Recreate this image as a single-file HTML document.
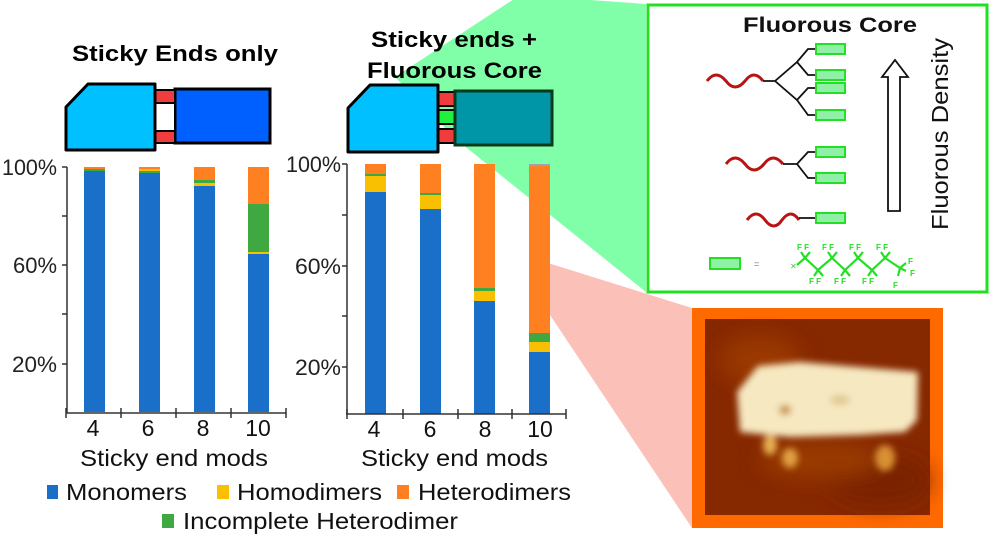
<!DOCTYPE html>
<html><head><meta charset="utf-8"><style>html,body{margin:0;padding:0;background:#fff}svg{display:block}</style></head>
<body>
<svg width="993" height="537" viewBox="0 0 993 537" xmlns="http://www.w3.org/2000/svg" font-family="Liberation Sans, Arial, sans-serif">
<defs>
<filter id="bl" x="-20%" y="-20%" width="140%" height="140%"><feGaussianBlur stdDeviation="3.5"/></filter>
<filter id="bl2" x="-20%" y="-20%" width="140%" height="140%"><feGaussianBlur stdDeviation="10"/></filter>
</defs>
<!-- pink wedge -->
<polygon points="548,263 692,308 692,528 548,312" fill="#fbc0b8"/>
<!-- green wedge -->
<polygon points="395,77 520,-5 646,4 646,292 457,140" fill="#80ffa8"/>

<!-- titles -->
<text x="72" y="61" font-size="22" font-weight="bold" textLength="206" lengthAdjust="spacingAndGlyphs">Sticky Ends only</text>
<text x="371" y="47" font-size="22" font-weight="bold" textLength="166" lengthAdjust="spacingAndGlyphs">Sticky ends +</text>
<text x="367" y="78" font-size="22" font-weight="bold" textLength="175" lengthAdjust="spacingAndGlyphs">Fluorous Core</text>

<!-- left truck -->
<rect x="175" y="89" width="95" height="54" fill="#0060ff" stroke="#000" stroke-width="3"/>
<rect x="155" y="92" width="20" height="48" fill="#fff" stroke="#000" stroke-width="2"/>
<rect x="155" y="90" width="20" height="13" fill="#f03c3c" stroke="#000" stroke-width="2"/>
<rect x="155" y="131" width="20" height="12" fill="#f03c3c" stroke="#000" stroke-width="2"/>
<polygon points="66,107 88,84 155,84 155,150 66,150" fill="#00c0ff" stroke="#000" stroke-width="3" stroke-linejoin="round"/>

<!-- right truck -->
<rect x="438" y="92" width="17" height="14" fill="#f03c3c" stroke="#000" stroke-width="2"/>
<rect x="438" y="110" width="17" height="14" fill="#20f040" stroke="#000" stroke-width="2"/>
<rect x="438" y="129" width="17" height="14" fill="#f03c3c" stroke="#000" stroke-width="2"/>
<rect x="455" y="91" width="97" height="54" fill="#0096a8" stroke="#0a3a1a" stroke-width="3"/>
<polygon points="348,108 370,85 438,85 438,152 348,152" fill="#00c0ff" stroke="#000" stroke-width="3" stroke-linejoin="round"/>

<!-- left chart -->
<g>
<rect x="84" y="167" width="21" height="245" fill="#1a6fc8"/>
<rect x="84" y="167" width="21" height="2" fill="#ff8020"/>
<rect x="84" y="169" width="21" height="2" fill="#40a840"/>
<rect x="139" y="167" width="21" height="245" fill="#1a6fc8"/>
<rect x="139" y="167" width="21" height="2" fill="#ff8020"/>
<rect x="139" y="169" width="21" height="2" fill="#f8c000"/>
<rect x="139" y="171" width="21" height="2" fill="#40a840"/>
<rect x="194" y="167" width="21" height="245" fill="#1a6fc8"/>
<rect x="194" y="167" width="21" height="13" fill="#ff8020"/>
<rect x="194" y="180" width="21" height="3" fill="#40a840"/>
<rect x="194" y="183" width="21" height="3" fill="#f8c000"/>
<rect x="248" y="167" width="21" height="245" fill="#1a6fc8"/>
<rect x="248" y="167" width="21" height="37" fill="#ff8020"/>
<rect x="248" y="204" width="21" height="48" fill="#40a840"/>
<rect x="248" y="252" width="21" height="2" fill="#f8c000"/>
<g stroke="#333" stroke-width="1.5" fill="none">
<line x1="67" y1="167" x2="67" y2="413"/>
<line x1="66" y1="413" x2="286" y2="413"/>
<line x1="62" y1="167" x2="67" y2="167"/><line x1="62" y1="216" x2="67" y2="216"/><line x1="62" y1="265" x2="67" y2="265"/><line x1="62" y1="314" x2="67" y2="314"/><line x1="62" y1="364" x2="67" y2="364"/>
<line x1="66" y1="408" x2="66" y2="418"/><line x1="121" y1="408" x2="121" y2="418"/><line x1="176" y1="408" x2="176" y2="418"/><line x1="231" y1="408" x2="231" y2="418"/><line x1="286" y1="408" x2="286" y2="418"/>
</g>
<g font-size="22" fill="#222" text-anchor="end">
<text x="57" y="175" textLength="55" lengthAdjust="spacingAndGlyphs">100%</text>
<text x="57" y="273" textLength="44" lengthAdjust="spacingAndGlyphs">60%</text>
<text x="57" y="372" textLength="45" lengthAdjust="spacingAndGlyphs">20%</text>
</g>
<g font-size="23" fill="#111" text-anchor="middle">
<text x="93" y="436">4</text><text x="148" y="436">6</text><text x="203" y="436">8</text><text x="258" y="436">10</text>
</g>
<text x="80" y="466" font-size="23" fill="#111" textLength="188" lengthAdjust="spacingAndGlyphs">Sticky end mods</text>
</g>

<!-- right chart -->
<g>
<rect x="365" y="164" width="21" height="250" fill="#1a6fc8"/>
<rect x="365" y="164" width="21" height="10" fill="#ff8020"/>
<rect x="365" y="174" width="21" height="2" fill="#40a840"/>
<rect x="365" y="176" width="21" height="16" fill="#f8c000"/>
<rect x="420" y="164" width="21" height="250" fill="#1a6fc8"/>
<rect x="420" y="164" width="21" height="29" fill="#ff8020"/>
<rect x="420" y="193" width="21" height="2" fill="#40a840"/>
<rect x="420" y="195" width="21" height="14" fill="#f8c000"/>
<rect x="474" y="164" width="21" height="250" fill="#1a6fc8"/>
<rect x="474" y="164" width="21" height="124" fill="#ff8020"/>
<rect x="474" y="288" width="21" height="3" fill="#40a840"/>
<rect x="474" y="291" width="21" height="10" fill="#f8c000"/>
<rect x="529" y="164" width="21" height="250" fill="#1a6fc8"/>
<rect x="529" y="164" width="21" height="2" fill="#a0a0b0"/>
<rect x="529" y="166" width="21" height="167" fill="#ff8020"/>
<rect x="529" y="333" width="21" height="9" fill="#40a840"/>
<rect x="529" y="342" width="21" height="10" fill="#f8c000"/>
<g stroke="#333" stroke-width="1.5" fill="none">
<line x1="347" y1="164" x2="347" y2="414"/>
<line x1="346" y1="414" x2="566" y2="414"/>
<line x1="342" y1="164" x2="347" y2="164"/><line x1="342" y1="215" x2="347" y2="215"/><line x1="342" y1="266" x2="347" y2="266"/><line x1="342" y1="316" x2="347" y2="316"/><line x1="342" y1="367" x2="347" y2="367"/>
<line x1="347" y1="409" x2="347" y2="419"/><line x1="403" y1="409" x2="403" y2="419"/><line x1="458" y1="409" x2="458" y2="419"/><line x1="512" y1="409" x2="512" y2="419"/><line x1="566" y1="409" x2="566" y2="419"/>
</g>
<g font-size="22" fill="#222" text-anchor="end">
<text x="341" y="172" textLength="55" lengthAdjust="spacingAndGlyphs">100%</text>
<text x="341" y="274" textLength="46" lengthAdjust="spacingAndGlyphs">60%</text>
<text x="341" y="375" textLength="46" lengthAdjust="spacingAndGlyphs">20%</text>
</g>
<g font-size="23" fill="#111" text-anchor="middle">
<text x="374" y="437">4</text><text x="430" y="437">6</text><text x="485" y="437">8</text><text x="540" y="437">10</text>
</g>
<text x="361" y="466" font-size="23" fill="#111" textLength="187" lengthAdjust="spacingAndGlyphs">Sticky end mods</text>
</g>

<!-- legend -->
<g font-size="23" fill="#111">
<rect x="47" y="485" width="11" height="14" fill="#1a6fc8"/>
<text x="66" y="500" textLength="121" lengthAdjust="spacingAndGlyphs">Monomers</text>
<rect x="217" y="485" width="12" height="14" fill="#f8c000"/>
<text x="237" y="500" textLength="145" lengthAdjust="spacingAndGlyphs">Homodimers</text>
<rect x="397" y="485" width="12" height="14" fill="#ff8020"/>
<text x="418" y="500" textLength="153" lengthAdjust="spacingAndGlyphs">Heterodimers</text>
<rect x="162" y="514" width="12" height="14" fill="#40a840"/>
<text x="183" y="529" textLength="275" lengthAdjust="spacingAndGlyphs">Incomplete Heterodimer</text>
</g>

<!-- fluorous core box -->
<rect x="648" y="5" width="339" height="287" fill="#fff" stroke="#22e022" stroke-width="3"/>
<text x="743" y="32" font-size="21" font-weight="bold" fill="#111" textLength="174" lengthAdjust="spacingAndGlyphs">Fluorous Core</text>
<text transform="translate(948,230) rotate(-90)" font-size="23" fill="#111" textLength="192" lengthAdjust="spacingAndGlyphs">Fluorous Density</text>
<polygon points="888,211 900,211 900,77 908,77 895,60 882,77 888,77" fill="#fff" stroke="#111" stroke-width="1.8"/>
<!-- waves -->
<g fill="none" stroke="#b81414" stroke-width="3">
<path d="M707,81 q9,-12 19,0 q9,12 19,0 q9,-12 18,0"/>
<path d="M726,164 q9,-12 19,0 q9,12 19,0 q9,-12 19,0" />
<path d="M747,220 q9,-12 18,0 q9,12 17,0 q9,-12 17,0"/>
</g>
<g fill="none" stroke="#111" stroke-width="1.8">
<path d="M763,81 L775,81 L797,62 L808,49 L816,49 M797,62 L808,75 L816,75 M775,81 L797,100 L808,88 L816,88 M797,100 L808,115 L816,115"/>
<path d="M783,164 L797,164 L808,152 L816,152 M797,164 L808,178 L816,178"/>
<path d="M799,218 L816,218"/>
</g>
<g fill="#90f0a8" stroke="#22e022" stroke-width="2">
<rect x="816" y="44" width="29" height="10"/>
<rect x="816" y="70" width="29" height="10"/>
<rect x="816" y="83" width="29" height="10"/>
<rect x="816" y="110" width="29" height="10"/>
<rect x="816" y="147" width="29" height="10"/>
<rect x="816" y="173" width="29" height="10"/>
<rect x="816" y="213" width="29" height="10"/>
<rect x="710" y="258" width="30" height="11"/>
</g>
<text x="754" y="267" font-size="9" fill="#777">=</text>
<g fill="none" stroke="#22e022" stroke-width="2.2">
<path d="M797,265 L805,258 L818,270 L832,258 L845,270 L858,258 L872,270 L885,258 L900,268"/>
<path d="M805,258 l-4,-6 M805,258 l5,-6 M818,270 l-4,6 M818,270 l5,6 M832,258 l-4,-6 M832,258 l5,-6 M845,270 l-4,6 M845,270 l5,6 M858,258 l-4,-6 M858,258 l5,-6 M872,270 l-4,6 M872,270 l5,6 M885,258 l-4,-6 M885,258 l5,-6 M900,268 l6,-5 M900,268 l6,3 M900,268 l-2,8"/>
</g>
<g font-size="8" font-weight="bold" fill="#22e022">
<text x="797" y="250">F F</text><text x="822" y="250">F F</text><text x="849" y="250">F F</text><text x="876" y="250">F F</text>
<text x="809" y="284">F F</text><text x="834" y="284">F F</text><text x="862" y="284">F F</text><text x="893" y="288">F</text>
<text x="908" y="264">F</text><text x="910" y="276">F</text>
</g>
<text x="790" y="269" font-size="8" fill="#22e022">✕</text>

<!-- AFM image -->
<rect x="692" y="308" width="251" height="220" fill="#ff6a00"/>
<rect x="705" y="319" width="225" height="196" fill="#862800"/>
<g filter="url(#bl2)"><ellipse cx="760" cy="360" rx="40" ry="25" fill="#9a3804"/><ellipse cx="880" cy="480" rx="50" ry="25" fill="#7a2200"/><ellipse cx="820" cy="460" rx="60" ry="18" fill="#9a3a06"/></g>
<g filter="url(#bl)">
<polygon points="737,392 758,366 800,362 918,372 917,420 905,432 860,435 790,437 740,432" fill="#f6e8c0"/>
<ellipse cx="770" cy="445" rx="7" ry="10" fill="#e8b050"/>
<ellipse cx="790" cy="458" rx="8" ry="10" fill="#e0a040"/>
<ellipse cx="885" cy="458" rx="10" ry="13" fill="#d89030"/>
<ellipse cx="785" cy="410" rx="6" ry="5" fill="#c89040"/>
<ellipse cx="840" cy="400" rx="10" ry="5" fill="#e0c890"/>
</g>
</svg>
</body></html>
